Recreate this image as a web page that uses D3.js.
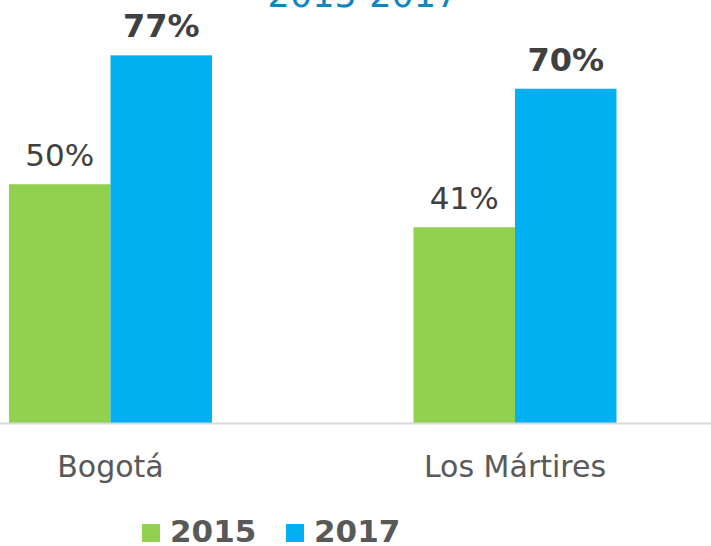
<!DOCTYPE html>
<html>
<head>
<meta charset="utf-8">
<script src="https://cdn.jsdelivr.net/npm/d3@7"></script>
<style>
  body { margin: 0; background: #fff; }
  text { font-family: "DejaVu Sans", Verdana, sans-serif; }
</style>
</head>
<body>
<div id="chart"></div>
<script>
// data
var categories = ["Bogotá", "Los Mártires"];
var years = ["2015", "2017"];
var values2015 = [50, 41];
var values2017 = [77, 70];
var colors = ["#92d050", "#00b0f0"];
var title = "2015-2017";

var svgWidth = 711;
var svgHeight = 546;
var baseY = 423;

var svg = d3.select("#chart")
  .append("svg")
  .attr("width", svgWidth)
  .attr("height", svgHeight);

// scales
var x0 = d3.scaleBand()
  .domain(categories)
  .range([-91.75, 717.25]);

var groupWidth = 203;
var x1 = d3.scaleBand()
  .domain(years)
  .range([0, groupWidth]);

var y = d3.scaleLinear()
  .domain([0, 100])
  .range([baseY, -54.5]);

var rows = categories.map(function(c, i) {
  return { cat: c, vals: [values2015[i], values2017[i]] };
});

// title (cut off at the top)
svg.append("text")
  .attr("x", 363)
  .attr("y", 7)
  .attr("text-anchor", "middle")
  .attr("font-size", "35px")
  .attr("fill", "#0f86bf")
  .text(title);

// bars
var groups = svg.selectAll(".grp")
  .data(rows)
  .enter()
  .append("g")
  .attr("transform", d => `translate(${x0(d.cat) + x0.bandwidth() / 2 - groupWidth / 2}, 0)`);

groups.selectAll("rect")
  .data(d => d.vals.map((v, j) => ({ year: years[j], v: v, j: j })))
  .enter()
  .append("rect")
  .attr("x", d => x1(d.year))
  .attr("width", x1.bandwidth())
  .attr("y", d => y(d.v))
  .attr("height", d => baseY - y(d.v))
  .attr("fill", d => colors[d.j]);

// value labels
groups.selectAll(".val")
  .data(d => d.vals.map((v, j) => ({ year: years[j], v: v, j: j })))
  .enter()
  .append("text")
  .attr("x", d => x1(d.year) + x1.bandwidth() / 2)
  .attr("y", d => y(d.v) - 18)
  .attr("text-anchor", "middle")
  .attr("font-size", d => d.j == 1 ? "32px" : "31px")
  .attr("font-weight", d => d.j == 1 ? "bold" : "normal")
  .attr("fill", "#404040")
  .text(d => d.v + "%");

// axis line
svg.append("line")
  .attr("x1", 0)
  .attr("x2", svgWidth)
  .attr("y1", baseY + 0.5)
  .attr("y2", baseY + 0.5)
  .attr("stroke", "#d9d9d9")
  .attr("stroke-width", 2);

// category labels
svg.selectAll(".cat")
  .data(categories)
  .enter()
  .append("text")
  .attr("x", d => x0(d) + x0.bandwidth() / 2)
  .attr("y", 477)
  .attr("text-anchor", "middle")
  .attr("font-size", "30px")
  .attr("fill", "#595959")
  .text(d => d);

// legend
var legendX = [142, 286];
var legend = svg.selectAll(".leg")
  .data(years)
  .enter()
  .append("g")
  .attr("transform", (d, i) => `translate(${legendX[i]}, 524)`);

legend.append("rect")
  .attr("width", 18)
  .attr("height", 18)
  .attr("fill", (d, i) => colors[i]);

legend.append("text")
  .attr("x", 28)
  .attr("y", 18)
  .attr("font-size", "31px")
  .attr("font-weight", "bold")
  .attr("fill", "#595959")
  .text(d => d);
</script>
</body>
</html>
